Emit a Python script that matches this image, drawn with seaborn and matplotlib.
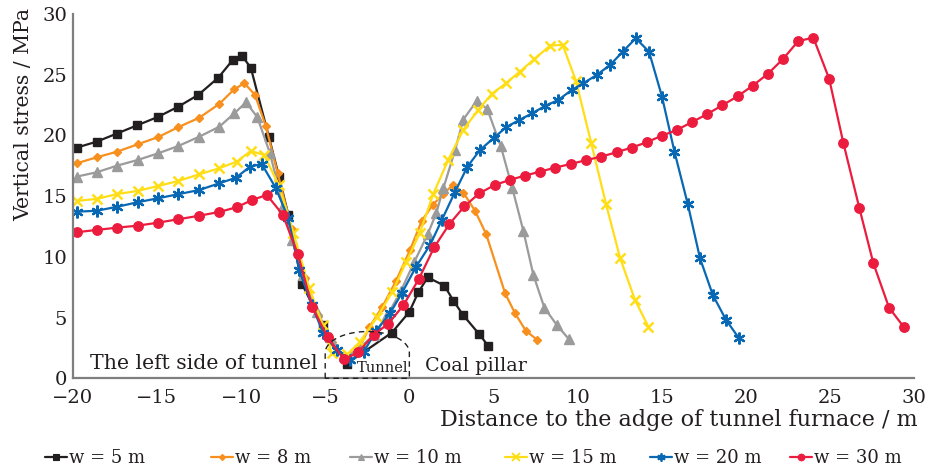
import numpy as np
import pandas as pd
import matplotlib
matplotlib.use("Agg")
import matplotlib.pyplot as plt
from matplotlib.path import Path
from matplotlib.patches import PathPatch
from matplotlib.lines import Line2D
import seaborn as sns

# ---------------- data ----------------
x5 = [-19.76, -18.57, -17.39, -16.16, -14.95, -13.73, -12.54, -11.35, -10.49, -9.94, -9.42, -8.35, -7.74,
      -7.19, -6.39, -5.15, -3.72, -1.04, 0.0, 0.53, 1.09, 2.08, 2.62, 3.17, 4.16, 4.69]
y5 = [19.0, 19.49, 20.15, 20.84, 21.52, 22.37, 23.34, 24.76, 26.22, 26.55, 25.58, 19.9, 16.6,
      13.45, 7.8, 4.4, 1.2, 3.76, 5.47, 7.08, 8.31, 7.63, 6.39, 5.25, 3.62, 2.66]

x8 = [-19.76, -18.57, -17.35, -16.14, -14.92, -13.73, -12.48, -11.29, -10.40, -9.80, -9.17, -8.53, -7.82,
      -7.0, -6.2, -5.4, -4.6, -3.8, -3.0, -2.38, -1.6, -0.8,
      0.04, 0.74, 1.4, 2.02, 2.58, 3.21, 3.90, 4.56, 5.69, 6.28, 6.92, 7.61]
y8 = [17.71, 18.20, 18.67, 19.27, 19.87, 20.68, 21.46, 22.6, 23.81, 24.3, 23.34, 20.78, 16.88,
      12.3, 8.3, 5.2, 3.0, 1.6, 2.4, 4.2, 5.9, 8.0,
      10.57, 12.98, 14.3, 15.18, 15.92, 15.29, 13.8, 11.89, 7.0, 5.35, 3.92, 3.15]

x10 = [-19.76, -18.57, -17.35, -16.14, -14.92, -13.73, -12.48, -11.29, -10.40, -9.70, -9.03, -8.28,
       -7.5, -6.99, -6.3, -5.5, -4.7, -3.9, -3.1,
       -2.1, -1.3, -0.5, 0.3, 1.1, 1.6, 2.02, 2.72, 3.2, 4.0,
       4.63, 5.43, 6.12, 6.77, 7.37, 8.02, 8.76, 9.47]
y10 = [16.61, 16.97, 17.52, 17.98, 18.53, 19.13, 19.9, 20.72, 21.82, 22.73, 21.50, 18.53,
       14.2, 11.39, 8.5, 5.5, 3.4, 1.8, 2.3,
       3.6, 5.2, 7.2, 9.6, 11.9, 13.6, 15.65, 18.8, 21.3, 22.84,
       22.18, 19.13, 15.65, 12.16, 8.51, 5.82, 4.39, 3.24]

x15 = [-19.76, -18.57, -17.35, -16.14, -14.92, -13.73, -12.48, -11.29, -10.26, -9.42, -8.63, -7.76,
       -6.89, -5.94, -5.15, -4.61, -3.68, -2.93, -1.90, -1.02, -0.18,
       0.63, 1.42, 2.31, 3.2, 4.09, 4.89, 5.74, 6.57, 7.42, 8.36, 9.11,
       9.9, 10.80, 11.69, 12.52, 13.41, 14.2]
y15 = [14.61, 14.77, 15.18, 15.43, 15.84, 16.25, 16.80, 17.30, 17.84, 18.72, 18.39, 15.92,
       12.0, 7.41, 4.4, 2.06, 1.98, 3.02, 5.07, 7.1, 9.6,
       11.99, 15.18, 17.98, 20.45, 22.1, 23.41, 24.3, 25.26, 26.28, 27.40, 27.46,
       24.49, 19.41, 14.33, 9.91, 6.45, 4.25]

x20 = [-19.76, -18.57, -17.35, -16.14, -14.92, -13.73, -12.48, -11.29, -10.30, -9.47, -8.77, -7.94, -7.19,
       -6.54, -5.8, -5.11, -4.3, -3.52, -2.7, -1.98, -1.15, -0.45,
       0.40, 1.23, 1.93, 2.72, 3.45, 4.20, 5.0, 5.75, 6.54, 7.31, 8.06, 8.85, 9.65,
       10.34, 11.13, 11.93, 12.68, 13.45, 14.24, 15.01, 15.75, 16.54, 17.27, 18.03, 18.82, 19.59]
y20 = [13.72, 13.80, 14.13, 14.50, 14.83, 15.16, 15.51, 16.06, 16.52, 17.43, 17.65, 15.68, 13.18,
       8.92, 6.04, 3.71, 2.3, 1.51, 2.2, 3.9, 5.35, 7.0,
       9.19, 10.98, 13.04, 15.37, 17.43, 18.81, 19.77, 20.68, 21.28, 21.83, 22.43, 22.92, 23.75,
       24.3, 24.98, 25.81, 26.9, 28.0, 26.9, 23.2, 18.67, 14.36, 9.88, 6.86, 4.80, 3.29]

x30 = [-19.76, -18.57, -17.35, -16.14, -14.92, -13.73, -12.48, -11.29, -10.26, -9.33, -8.47, -7.52,
       -6.62, -5.76, -4.86, -3.89, -3.05, -2.10, -1.25, -0.36,
       0.56, 1.48, 2.38, 3.26, 4.16, 5.09, 5.98, 6.88, 7.77,
       8.66, 9.59, 10.48, 11.39, 12.32, 13.21, 14.11, 15.0, 15.89, 16.78,
       17.71, 18.60, 19.51, 20.40, 21.30, 22.19, 23.10, 24.0,
       24.94, 25.79, 26.74, 27.57, 28.50, 29.39]
y30 = [12.03, 12.22, 12.41, 12.57, 12.82, 13.1, 13.39, 13.70, 14.09, 14.69, 15.10, 13.48,
       10.2, 5.85, 3.4, 1.55, 2.14, 3.6, 4.5, 6.0,
       8.17, 10.8, 12.7, 14.15, 15.24, 15.93, 16.34, 16.70, 17.02,
       17.35, 17.65, 17.96, 18.25, 18.62, 19.0, 19.44, 19.98, 20.45, 21.09,
       21.77, 22.49, 23.23, 24.1, 25.07, 26.28, 27.76, 28.06,
       24.68, 19.36, 14.0, 9.47, 5.82, 4.20]

labels = ["w = 5 m", "w = 8 m", "w = 10 m", "w = 15 m", "w = 20 m", "w = 30 m"]
xs = [x5, x8, x10, x15, x20, x30]
ys = [y5, y8, y10, y15, y20, y30]

x_ticks = [-20, -15, -10, -5, 0, 5, 10, 15, 20, 25, 30]
y_ticks = [0, 5, 10, 15, 20, 25, 30]

# ---------------- style ----------------
colors = ["#231f20", "#f7901e", "#9b9b9b", "#ffde17", "#0868b3", "#ec1c3e"]
markers = ["s", "D", "^", "x", (6, 2, 0), "o"]
msizes = [6.3, 4.5, 6.5, 7.5, 8.5, 6.8]
mews = [1.0, 1.0, 1.0, 1.8, 1.6, 1.0]
legend_x = [45, 211, 350, 505, 650, 790]   # left edge of each legend entry (px)

sns.set_theme(style="white")
plt.rcParams["font.family"] = ["DejaVu Serif"]
plt.rcParams["axes.unicode_minus"] = True

W, H = 930, 472
fig = plt.figure(figsize=(W / 100, H / 100), dpi=100)
ax = fig.add_axes([0.0782, 0.1985, 0.9831 - 0.0782, 0.9703 - 0.1985])

handles = []
for lab, x, y, c, m, ms, mew in zip(labels, xs, ys, colors, markers, msizes, mews):
    df = pd.DataFrame({"x": x, "y": y})
    sns.lineplot(data=df, x="x", y="y", ax=ax, color=c, sort=False, estimator=None,
                 linewidth=1.6, marker=m, markersize=ms, markeredgewidth=mew,
                 markeredgecolor=c, markerfacecolor=c, legend=False)
    handles.append(Line2D([], [], color=c, linewidth=1.6, marker=m,
                          markersize=ms * 0.7, markeredgewidth=mew * 0.8,
                          markeredgecolor=c, markerfacecolor=c, label=lab))

ax.set_xlim(-20, 30)
ax.set_ylim(0, 30)
ax.set_xticks(x_ticks)
ax.set_yticks(y_ticks)
ax.set_xticklabels([("\u2212" + str(abs(t))) if t < 0 else str(t) for t in x_ticks])

spine_c = "#7f7f7f"
for s in ["top", "right"]:
    ax.spines[s].set_visible(False)
for s in ["left", "bottom"]:
    ax.spines[s].set_color(spine_c)
    ax.spines[s].set_linewidth(1.6)
ax.tick_params(axis="both", direction="in", length=5, width=1.4, color=spine_c,
               labelsize=14, labelcolor="#231f20")
ax.tick_params(axis="x", pad=7.5)
ax.tick_params(axis="y", pad=4)

ax.set_xlabel("")
ax.set_ylabel("")
fig.text(0.987, 0.110, "Distance to the adge of tunnel furnace / m", ha="right", va="center",
         fontsize=16, color="#231f20")
fig.text(0.025, 0.757, "Vertical stress / MPa", ha="center", va="center", rotation=90,
         fontsize=14.7, color="#231f20")

# annotations
ax.text(-18.97, 1.25, "The left side of tunnel", ha="left", va="center", fontsize=14.7, color="#231f20")
ax.text(0.95, 1.05, "Coal pillar", ha="left", va="center", fontsize=13.8, color="#231f20")
ax.text(-1.6, 0.85, "Tunnel", ha="center", va="center", fontsize=10.5, color="#231f20")

# tunnel outline (dashed arch)
th = np.linspace(np.pi, 0, 60)
cx, cy, rx, ry = -2.5, 2.1, 2.5, 1.75
arc = np.column_stack([cx + rx * np.cos(th), cy + ry * np.sin(th)])
verts = np.vstack([[[-5.0, 0.0]], arc, [[0.0, 0.0]], [[-5.0, 0.0]]])
patch = PathPatch(Path(verts), facecolor="none", edgecolor="#231f20", linewidth=1.0,
                  linestyle=(0, (4, 3)), zorder=5, clip_on=False)
ax.add_patch(patch)

# legend: one entry per position along the bottom
for h, lx in zip(handles, legend_x):
    fig.legend(handles=[h], loc="center left", bbox_to_anchor=(lx / W, 0.030), frameon=False,
               fontsize=13, handlelength=1.2, handletextpad=0.15, borderpad=0,
               borderaxespad=0, labelcolor="#231f20")

fig.savefig("out.png", dpi=100)
